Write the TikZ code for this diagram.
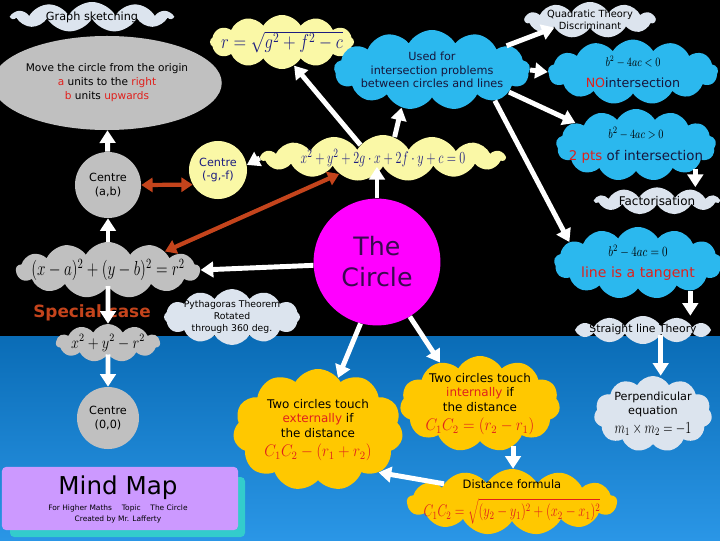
\documentclass[tikz,border=0pt]{standalone}
\usepackage{fontspec}
\usepackage{graphicx}
\setmainfont{DejaVu Sans}
\usetikzlibrary{arrows.meta,positioning,shapes.symbols,shapes.geometric}
\definecolor{mmSky}{HTML}{2BB8EE}
\definecolor{mmPale}{HTML}{DCE4EE}
\definecolor{mmGrey}{HTML}{C0C0C0}
\definecolor{mmCream}{HTML}{FAF8A6}
\definecolor{mmGold}{HTML}{FFC800}
\definecolor{mmPink}{HTML}{FF00FF}
\definecolor{mmNavy}{HTML}{1C1C80}
\definecolor{mmInk}{HTML}{16163C}
\definecolor{mmRed}{HTML}{E0201C}
\definecolor{mmRust}{HTML}{C4441C}
\definecolor{mmSea}{HTML}{0A6CB6}
\definecolor{mmSeaLight}{HTML}{2A96E6}
\definecolor{mmLilac}{HTML}{CC99FF}
\definecolor{mmTeal}{HTML}{33CCCC}
\definecolor{mmPlum}{HTML}{3A0A50}
% narrow maths, like the condensed formulas of the map
\newcommand{\fml}[2][0.78]{\scalebox{#1}[1]{$#2$}}

\begin{document}
\begin{tikzpicture}[x=0.025cm, y=-0.025cm,
    cl/.style={cloud, cloud puffs=13, cloud puff arc=120, inner sep=0pt},
    pale/.style={cl, fill=mmPale},
    sky/.style={cl, fill=mmSky},
    cream/.style={cl, fill=mmCream},
    grey/.style={cl, fill=mmGrey},
    gold/.style={cl, fill=mmGold, cloud puffs=11},
    txt/.style={align=center, font=\fontsize{8}{9.5}\selectfont},
    dot/.style={circle, inner sep=0pt, align=center, font=\fontsize{8}{9.5}\selectfont},
    arr/.style={-{Triangle[length=9pt,width=11pt]}, line width=3.5pt, white},
    dbl/.style={{Triangle[length=8pt,width=10pt]}-{Triangle[length=8pt,width=10pt]},
      line width=3pt, mmRust}]
  \useasboundingbox (0,0) rectangle (720,540);
  \fill[black] (0,0) rectangle (720,336);
  \shade[top color=mmSea, bottom color=mmSeaLight] (0,336) rectangle (720,540);

  % left column
  \node[pale, aspect=4.2, minimum width=4cm, minimum height=0.75cm, cloud puffs=11,
    label={[txt]center:Graph sketching}] (gs) at (92,17) {};
  \node[ellipse, fill=mmGrey, minimum width=5.4cm, minimum height=2.35cm, inner sep=0pt,
    align=center, font=\fontsize{7.5}{10}\selectfont] (move) at (107,83)
    {Move the circle from the origin\\ \textcolor{mmRed}{a} units to the \textcolor{mmRed}{right}\\
     \textcolor{mmRed}{b} units \textcolor{mmRed}{upwards}};
  \node[dot, fill=mmGrey, minimum size=1.65cm] (cab) at (108,185) {Centre\\(a,b)};
  \node[grey, aspect=2.4, minimum width=4.6cm, minimum height=1.4cm,
    label={[font=\fontsize{14}{16}\selectfont]center:\fml[0.75]{(x-a)^2+(y-b)^2=r^2}}]
    (std) at (108,270) {};
  \node[text=mmRust, font=\fontsize{12}{14}\selectfont\bfseries] (spec) at (92,313) {Special case};
  \node[grey, aspect=2.15, minimum width=2.6cm, minimum height=0.95cm, cloud puffs=11,
    label={[font=\fontsize{12}{14}\selectfont]center:\fml[0.85]{x^2+y^2-r^2}}]
    (orig) at (108,343) {};
  \node[dot, fill=mmGrey, minimum size=1.55cm] (c00) at (108,418) {Centre\\(0,0)};
  \node[pale, aspect=1.9, minimum width=3.4cm, minimum height=1.4cm, cloud puffs=12,
    label={[txt, font=\fontsize{6.6}{8.5}\selectfont]center:Pythagoras Theorem\\Rotated\\through 360 deg.}]
    (pyth) at (232,317) {};

  % centre
  \node[cream, aspect=2.0, minimum width=3.6cm, minimum height=1.35cm, cloud puffs=12,
    label={[text=mmNavy, font=\fontsize{14}{16}\selectfont]center:\fml[0.82]{r=\sqrt{g^2+f^2-c}}}]
    (rform) at (282,42) {};
  \node[dot, fill=mmCream, minimum size=1.45cm, text=mmNavy] (cgf) at (218,170) {Centre\\(-g,-f)};
  \node[cream, aspect=4.5, minimum width=6.1cm, minimum height=1.15cm, cloud puffs=15,
    label={[text=mmNavy, font=\fontsize{12.5}{15}\selectfont]center:\fml[0.72]{x^2+y^2+2g\cdot x+2f\cdot y+c=0}}]
    (gen) at (383,158) {};
  \node[circle, fill=mmPink, minimum size=3.17cm, align=center, text=mmPlum,
    font=\fontsize{18}{22}\selectfont] (circ) at (377,262) {The\\Circle};
  \node[sky, aspect=2.4, minimum width=4.9cm, minimum height=2cm,
    label={[txt, text=mmInk]center:Used for\\intersection problems\\between circles and lines}]
    (used) at (432,70) {};

  % right column
  \node[pale, aspect=3.0, minimum width=3.25cm, minimum height=0.9cm, cloud puffs=11,
    label={[txt, font=\fontsize{7}{8.5}\selectfont]center:Quadratic Theory\\Discriminant}]
    (quad) at (590,20) {};
  \node[sky, aspect=2.25, minimum width=4.25cm, minimum height=1.62cm,
    label={[txt, text=mmInk, font=\fontsize{9}{15}\selectfont]center:
      \textcolor{black}{\fml{b^2-4ac<0}}\\\textcolor{mmRed}{NO}intersection}]
    (noint) at (633,72) {};
  \node[sky, aspect=2.1, minimum width=4cm, minimum height=1.8cm,
    label={[txt, text=mmInk, font=\fontsize{9.5}{15}\selectfont]center:
      \textcolor{black}{\fml{b^2-4ac>0}}\\\textcolor{mmRed}{2 pts} of intersection}]
    (twopts) at (636,145) {};
  \node[pale, aspect=3.7, minimum width=3.1cm, minimum height=0.68cm, cloud puffs=11,
    label={[txt, font=\fontsize{8.5}{10}\selectfont]center:Factorisation}]
    (fact) at (657,201) {};
  \node[sky, aspect=2.3, minimum width=4.2cm, minimum height=1.8cm,
    label={[txt, text=mmRed, font=\fontsize{10}{15}\selectfont]center:
      \textcolor{black}{\fml{b^2-4ac=0}}\\line is a tangent}]
    (tang) at (638,263) {};
  \node[pale, aspect=3.8, minimum width=3.4cm, minimum height=0.7cm, cloud puffs=12,
    label={[txt, font=\fontsize{7.7}{9}\selectfont]center:Straight line Theory}]
    (sline) at (643,330) {};
  \node[pale, aspect=1.6, minimum width=2.95cm, minimum height=1.9cm, cloud puffs=11,
    label={[txt]center:Perpendicular\\equation\\[4pt]{\fontsize{12}{14}\selectfont\fml[0.72]{m_1\times m_2=-1}}}]
    (perp) at (653,414) {};

  % bottom
  \node[gold, aspect=1.4, minimum width=4.25cm, minimum height=3.05cm,
    label={[txt, font=\fontsize{8.5}{10.5}\selectfont]center:Two circles touch\\\textcolor{mmRed}{externally} if\\the distance\\[3pt]
     {\fontsize{12}{14}\selectfont\color{mmRed}\fml[0.9]{C_1C_2-(r_1+r_2)}}}]
    (ext) at (318,430) {};
  \node[gold, aspect=1.7, minimum width=4cm, minimum height=2.4cm,
    label={[txt, font=\fontsize{8.5}{10.5}\selectfont]center:Two circles touch\\\textcolor{mmRed}{internally} if\\the distance\\[3pt]
     {\fontsize{12}{16}\selectfont\color{mmRed}\fml[0.9]{C_1C_2=(r_2-r_1)}}}]
    (int) at (480,404) {};
  \node[gold, aspect=2.75, minimum width=5.25cm, minimum height=1.65cm, cloud puffs=13,
    label={[txt, font=\fontsize{8.2}{10}\selectfont]center:Distance formula\\[6pt]
     {\fontsize{12}{14}\selectfont\color{mmRed}\fml[0.75]{C_1C_2=\sqrt{(y_2-y_1)^2+(x_2-x_1)^2}}}}]
    (dist) at (512,502) {};

  % mind map box
  \fill[mmTeal, rounded corners=3pt] (10,477) rectangle (245,537);
  \node[fill=mmLilac, rounded corners=3pt, minimum width=5.9cm, minimum height=1.58cm,
    inner sep=0pt] (mm) at (120,498.5) {};
  \node[font=\fontsize{17.5}{20}\selectfont] (mmtitle) at (118,488) {Mind Map};
  \node[font=\fontsize{5.3}{6.5}\selectfont, align=center] (mmsub) at (118,514)
    {For Higher Maths \quad Topic \quad The Circle\\[1pt]Created by Mr. Lafferty};

  % connectors
  \draw[arr] (cab) -- (move);
  \draw[arr] (std) -- (cab);
  \draw[arr] (std) -- (orig);
  \draw[arr] (orig) -- (c00);
  \draw[arr] (circ.183) -- (std.east);
  \draw[dbl] (cab.east) -- (cgf.210);
  \draw[dbl] (std.18) -- (gen.200);
  \draw[arr] (gen.west) -- (cgf.10);
  \draw[arr] (circ.north) -- (circ.north |- gen.south);
  \draw[arr] (gen.150) -- (rform.297);
  \draw[arr] (gen.61) -- (used.231);
  \draw[arr] (used.18) -- (quad.192);
  \draw[arr] (used.east) -- (noint.west);
  \draw[arr] (used.-16) -- (twopts.160);
  \draw[arr] (used.-26) -- (tang.163);
  \draw[arr] (twopts.-22) -- (twopts.-22 |- fact.north);
  \draw[arr] (tang.-28) -- (tang.-28 |- sline.north);
  \draw[arr] (sline.-15) -- (sline.-15 |- perp.north);
  \draw[arr] (circ.-105) -- (ext.69);
  \draw[arr] (circ.-59) -- (int.134);
  \draw[arr] (int.-52) -- (int.-52 |- dist.north);
  \draw[arr] (dist.165) -- (ext.-35);
\end{tikzpicture}
\end{document}
